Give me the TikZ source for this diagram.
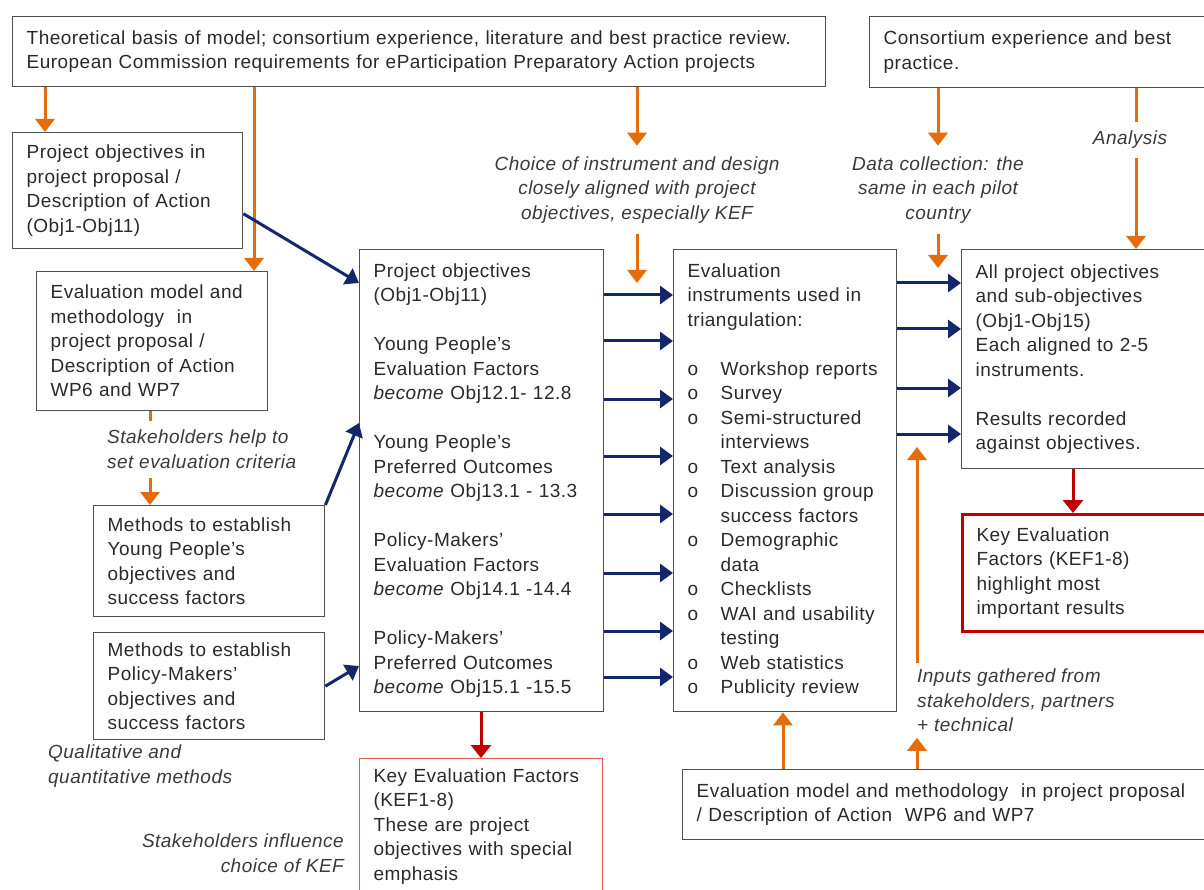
\documentclass[tikz,border=0pt]{standalone}
\usepackage{fontspec}
\setmainfont{Liberation Sans}[LetterSpace=2.5]
\usetikzlibrary{arrows.meta}

\definecolor{orng}{HTML}{E46C0A}
\definecolor{navy}{HTML}{14276B}
\definecolor{kefred}{HTML}{C00000}
\definecolor{lightred}{HTML}{E05A5A}
\definecolor{frame}{HTML}{505050}
\definecolor{ink}{HTML}{2A2A2A}
\definecolor{noteink}{HTML}{3A3A3A}

% bullet item and continuation line in the instrument list
\newcommand\instItem[1]{\makebox[33pt][l]{o}#1}
\newcommand\instCont[1]{\hspace*{33pt}#1}

\begin{document}
\begin{tikzpicture}[x=1pt,y=-1pt,
  every node/.style={font=\fontsize{19}{24.5}\selectfont, text=ink},
  box/.style={draw=frame, line width=1.4pt, fill=white, anchor=north west,
              align=left, inner xsep=14pt, inner ysep=0pt},
  note/.style={font=\fontsize{19}{24.2}\selectfont\itshape, text=noteink, inner xsep=0pt},
  oarr/.style={draw=orng, line width=3pt, -{Triangle[width=19pt,length=13pt]}},
  oline/.style={draw=orng, line width=3pt},
  barr/.style={draw=navy, line width=3pt, -{Triangle[width=18pt,length=13pt]}},
  rarr/.style={draw=kefred, line width=3pt, -{Triangle[width=20pt,length=13pt]}},
]
\useasboundingbox[fill=white] (0,0) rectangle (1204,890);

% ---------- boxes ----------
\node[box, minimum width=813pt, minimum height=70pt, text width=785pt] (top) at (12,16)
  {Theoretical basis of model; consortium experience, literature and best practice review.\\
   European Commission requirements for eParticipation Preparatory Action projects};

\node[box, minimum width=345pt, minimum height=71pt, text width=317pt] (cons) at (869,16)
  {Consortium experience and best\\practice.};

\node[box, minimum width=230pt, minimum height=116pt, text width=202pt] (projL) at (12,132)
  {Project objectives in\\project proposal /\\Description of Action\\(Obj1-Obj11)};

\node[box, minimum width=231pt, minimum height=139pt, text width=203pt] (evalL) at (36,271)
  {Evaluation model and\\methodology\ \ in\\project proposal /\\Description of Action\\WP6 and WP7};

\node[box, minimum width=231pt, minimum height=111pt, text width=203pt] (ymeth) at (93,505)
  {Methods to establish\\Young People's\\objectives and\\success factors};

\node[box, minimum width=231pt, minimum height=107pt, text width=203pt] (pmeth) at (93,632)
  {Methods to establish\\Policy-Makers'\\objectives and\\success factors};

\node[box, minimum width=244pt, minimum height=462pt, text width=216pt] (mid) at (359,249)
  {Project objectives\\
   (Obj1-Obj11)\\[24.5pt]
   Young People's\\
   Evaluation Factors\\
   \textit{become} Obj12.1- 12.8\\[24.5pt]
   Young People's\\
   Preferred Outcomes\\
   \textit{become} Obj13.1 - 13.3\\[24.5pt]
   Policy-Makers'\\
   Evaluation Factors\\
   \textit{become} Obj14.1 -14.4\\[24.5pt]
   Policy-Makers'\\
   Preferred Outcomes\\
   \textit{become} Obj15.1 -15.5};

\node[box, draw=lightred, line width=1pt, minimum width=243pt, minimum height=136pt, text width=215pt] (kefm) at (359,758)
  {Key Evaluation Factors\\(KEF1-8)\\These are project\\objectives with special\\emphasis};

\node[box, minimum width=223pt, minimum height=462pt, text width=195pt] (instr) at (673,249)
  {Evaluation\\
   instruments used in\\
   triangulation:\\[24.5pt]
   \instItem{Workshop reports}\\
   \instItem{Survey}\\
   \instItem{Semi-structured}\\
   \instCont{interviews}\\
   \instItem{Text analysis}\\
   \instItem{Discussion group}\\
   \instCont{success factors}\\
   \instItem{Demographic}\\
   \instCont{data}\\
   \instItem{Checklists}\\
   \instItem{WAI and usability}\\
   \instCont{testing}\\
   \instItem{Web statistics}\\
   \instItem{Publicity review}};

\node[box, minimum width=255pt, minimum height=219pt, text width=227pt] (allobj) at (961,249)
  {All project objectives\\and sub-objectives\\(Obj1-Obj15)\\Each aligned to 2-5\\instruments.\\[24.5pt]
   Results recorded\\against objectives.};

\node[box, draw=kefred, line width=3pt, minimum width=255pt, minimum height=117pt, text width=227pt] (kefr) at (961,513)
  {Key Evaluation\\Factors (KEF1-8)\\highlight most\\important results};

\node[box, minimum width=535pt, minimum height=70pt, text width=507pt] (bottom) at (682,769)
  {Evaluation model and methodology\ \ in project proposal\\/ Description of Action\ \ WP6 and WP7};

% ---------- italic annotations ----------
\node[note, align=center, inner ysep=11pt] (choice) at (637,190)
  {Choice of instrument and design\\closely aligned with project\\objectives, especially KEF};
\node[note, align=center, inner ysep=11pt] (datacoll) at (938,190)
  {Data collection: the\\same in each pilot\\country};
\node[note, align=center, inner ysep=9pt] (analysis) at (1130,140) {Analysis};
\node[note, align=left, anchor=north west, inner ysep=9pt] (help) at (107,421)
  {Stakeholders help to\\set evaluation criteria};
\node[note, align=left, anchor=north west, inner ysep=0pt] (qual) at (48,745)
  {Qualitative and\\quantitative methods};
\node[note, align=right, anchor=north east, inner ysep=0pt] (influence) at (344,834)
  {Stakeholders influence\\choice of KEF};
\node[note, align=left, anchor=north west, inner ysep=6pt] (inputs) at (917,663)
  {Inputs gathered from\\stakeholders, partners\\+ technical};

% ---------- helper points ----------
\coordinate (chEnd) at (637,283);
\coordinate (dcEnd) at (938,268);
\coordinate (helpX) at ([xshift=114pt]evalL.south west);
\coordinate (inTop) at (917,447);

% ---------- orange connectors ----------
\draw[oarr] ([xshift=33pt]top.south west) -- ([xshift=33pt]projL.north west);
\draw[oarr] ([xshift=242pt]top.south west) -- ([xshift=218pt]evalL.north west);
\draw[oarr] (top.south -| choice.north) -- (choice.north);
\draw[oarr] (choice.south) -- (chEnd);
\draw[oarr] ([xshift=69pt]cons.south west) -- (datacoll.north);
\draw[oarr] (datacoll.south) -- (dcEnd);
\draw[oline] ([xshift=267pt]cons.south west) -- ([xshift=6pt]analysis.north);
\draw[oarr] ([xshift=6pt]analysis.south) -- ([xshift=175pt]allobj.north west);
\draw[oline] (helpX) -- (helpX |- help.north);
\draw[oarr] (helpX |- help.south) -- (helpX |- ymeth.north);
\draw[oarr] ([xshift=101pt]bottom.north west) -- ([xshift=110pt]instr.south west);
\draw[oarr] ([xshift=235pt]bottom.north west) -- (inputs.south west);
\draw[oarr] (inputs.north west) -- (inTop);

% ---------- red connectors ----------
\draw[rarr] ([xshift=122pt]mid.south west) -- ([xshift=122pt]kefm.north west);
\draw[rarr] ([xshift=112pt]allobj.south west) -- ([xshift=112pt]kefr.north west);

% ---------- navy connectors ----------
\draw[barr] ([yshift=-23pt]projL.east) -- ([yshift=-34pt]mid.north west);
\draw[barr] (ymeth.north east) -- ([yshift=-174pt]mid.north west);
\draw[barr] (pmeth.east) -- ([yshift=-417pt]mid.north west);
\foreach \d in {46,92,150,207,265,324,382,428}
  \draw[barr] ([yshift=-\d pt]mid.north east) -- ([yshift=-\d pt]instr.north west);
\foreach \d in {34,80,139,185}
  \draw[barr] ([yshift=-\d pt]instr.north east) -- ([yshift=-\d pt]allobj.north west);

\end{tikzpicture}
\end{document}
